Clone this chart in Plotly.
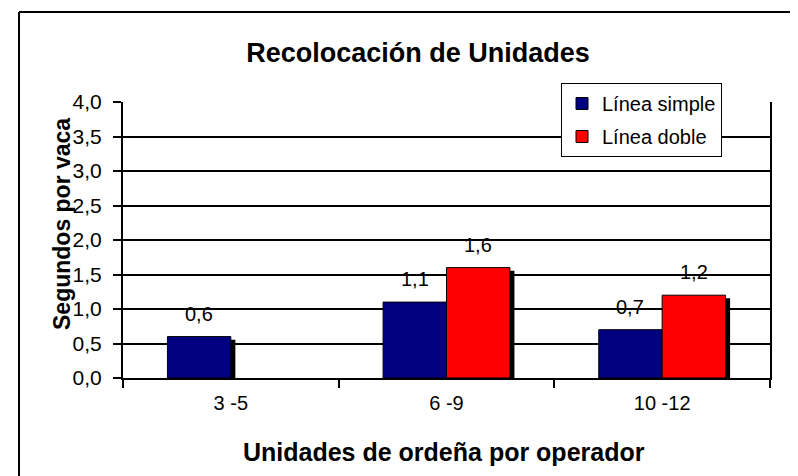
import plotly.graph_objects as go

categories = ["3 -5", "6 -9", "10 -12"]
linea_simple = [0.6, 1.1, 0.7]
linea_doble = [None, 1.6, 1.2]
simple_labels = ["0,6", "1,1", "0,7"]
doble_labels = ["", "1,6", "1,2"]

FONT = "Arial, Liberation Sans, sans-serif"
BLUE = "#000080"
RED = "#FF0000"
BW = 0.294          # bar width in category units
SH_DX = 0.021       # shadow horizontal offset (category units)
SH_DY = 0.045       # shadow vertical offset (data units)
LABEL_SHIFT = 23

# plot-area geometry in pixels
L, R, T, B = 115, 762, 94, 370
W, H = 798, 476
def px(x):
    return (x - L) / (R - L)
def py(y):
    return (B - y) / (B - T)

fig = go.Figure()

def shadow(vals):
    return [None if v is None else v - SH_DY for v in vals]

# shadows
fig.add_trace(go.Bar(x=categories, y=shadow(linea_simple), offset=-BW + SH_DX, width=BW,
                     marker=dict(color="black", line=dict(width=0)), showlegend=False, hoverinfo="skip"))
fig.add_trace(go.Bar(x=categories, y=shadow(linea_doble), offset=SH_DX, width=BW,
                     marker=dict(color="black", line=dict(width=0)), showlegend=False, hoverinfo="skip"))
# bars
fig.add_trace(go.Bar(x=categories, y=linea_simple, offset=-BW, width=BW, name="Línea simple",
                     legendgroup="a",
                     marker=dict(color=BLUE, line=dict(color="black", width=1))))
fig.add_trace(go.Bar(x=categories, y=linea_doble, offset=0, width=BW, name="Línea doble",
                     legendgroup="b",
                     marker=dict(color=RED, line=dict(color="black", width=1))))

annotations = []
for i, c in enumerate(categories):
    if linea_simple[i] is not None:
        annotations.append(dict(x=i - BW / 2, y=linea_simple[i], xref="x", yref="y", text=simple_labels[i],
                                showarrow=False, yshift=LABEL_SHIFT, xanchor="center", yanchor="middle",
                                font=dict(family=FONT, size=20, color="black")))
    if linea_doble[i] is not None:
        annotations.append(dict(x=i + BW / 2, y=linea_doble[i], xref="x", yref="y", text=doble_labels[i],
                                showarrow=False, yshift=LABEL_SHIFT, xanchor="center", yanchor="middle",
                                font=dict(family=FONT, size=20, color="black")))

annotations.append(dict(x=px(54), y=py(216), xref="paper", yref="paper",
                        text="<b>Segundos por vaca</b>", xanchor="center", yanchor="middle",
                        textangle=-90, showarrow=False, font=dict(family=FONT, size=23, color="black")))
annotations.append(dict(x=px(436), y=py(444), xref="paper", yref="paper",
                        text="<b>Unidades de ordeña por operador</b>", xanchor="center", yanchor="middle",
                        showarrow=False, font=dict(family=FONT, size=25, color="black")))

fig.update_layout(
    width=W, height=H,
    margin=dict(l=L, r=W - R, t=T, b=H - B),
    paper_bgcolor="white", plot_bgcolor="white",
    barmode="overlay",
    separators=", ",
    font=dict(family=FONT, size=20, color="black"),
    title=dict(text="<b>Recolocación de Unidades</b>", x=410 / W, xanchor="center",
               y=1 - 45 / H, yanchor="middle", yref="container",
               font=dict(family=FONT, size=27, color="black")),
    xaxis=dict(type="category", tickson="boundaries", ticks="outside", ticklen=8, tickwidth=2,
               tickcolor="black", ticklabelstandoff=6,
               showline=True, linecolor="black", linewidth=2, showgrid=False,
               range=[-0.5, 2.5], tickfont=dict(family=FONT, size=20, color="black")),
    yaxis=dict(range=[0, 4], dtick=0.5, tickformat=".1f", ticks="outside", ticklen=8, tickcolor="black",
               tickwidth=2, ticklabelstandoff=7, showline=True, linecolor="black", linewidth=2, mirror=True,
               showgrid=True, gridcolor="black", gridwidth=2,
               zeroline=False, tickfont=dict(family=FONT, size=21, color="black")),
    legend=dict(x=px(553), y=py(75), xanchor="left", yanchor="top", bgcolor="white",
                bordercolor="black", borderwidth=1, traceorder="grouped", tracegroupgap=4,
                font=dict(family=FONT, size=20, color="black")),
    annotations=annotations,
    shapes=[
        dict(type="line", xref="paper", yref="paper", x0=px(11), x1=px(11),
             y0=py(480), y1=py(4), line=dict(color="black", width=2)),
        dict(type="line", xref="paper", yref="paper", x0=px(11), x1=px(800),
             y0=py(4), y1=py(4), line=dict(color="black", width=2)),
    ],
)

fig.write_html("out.html")
